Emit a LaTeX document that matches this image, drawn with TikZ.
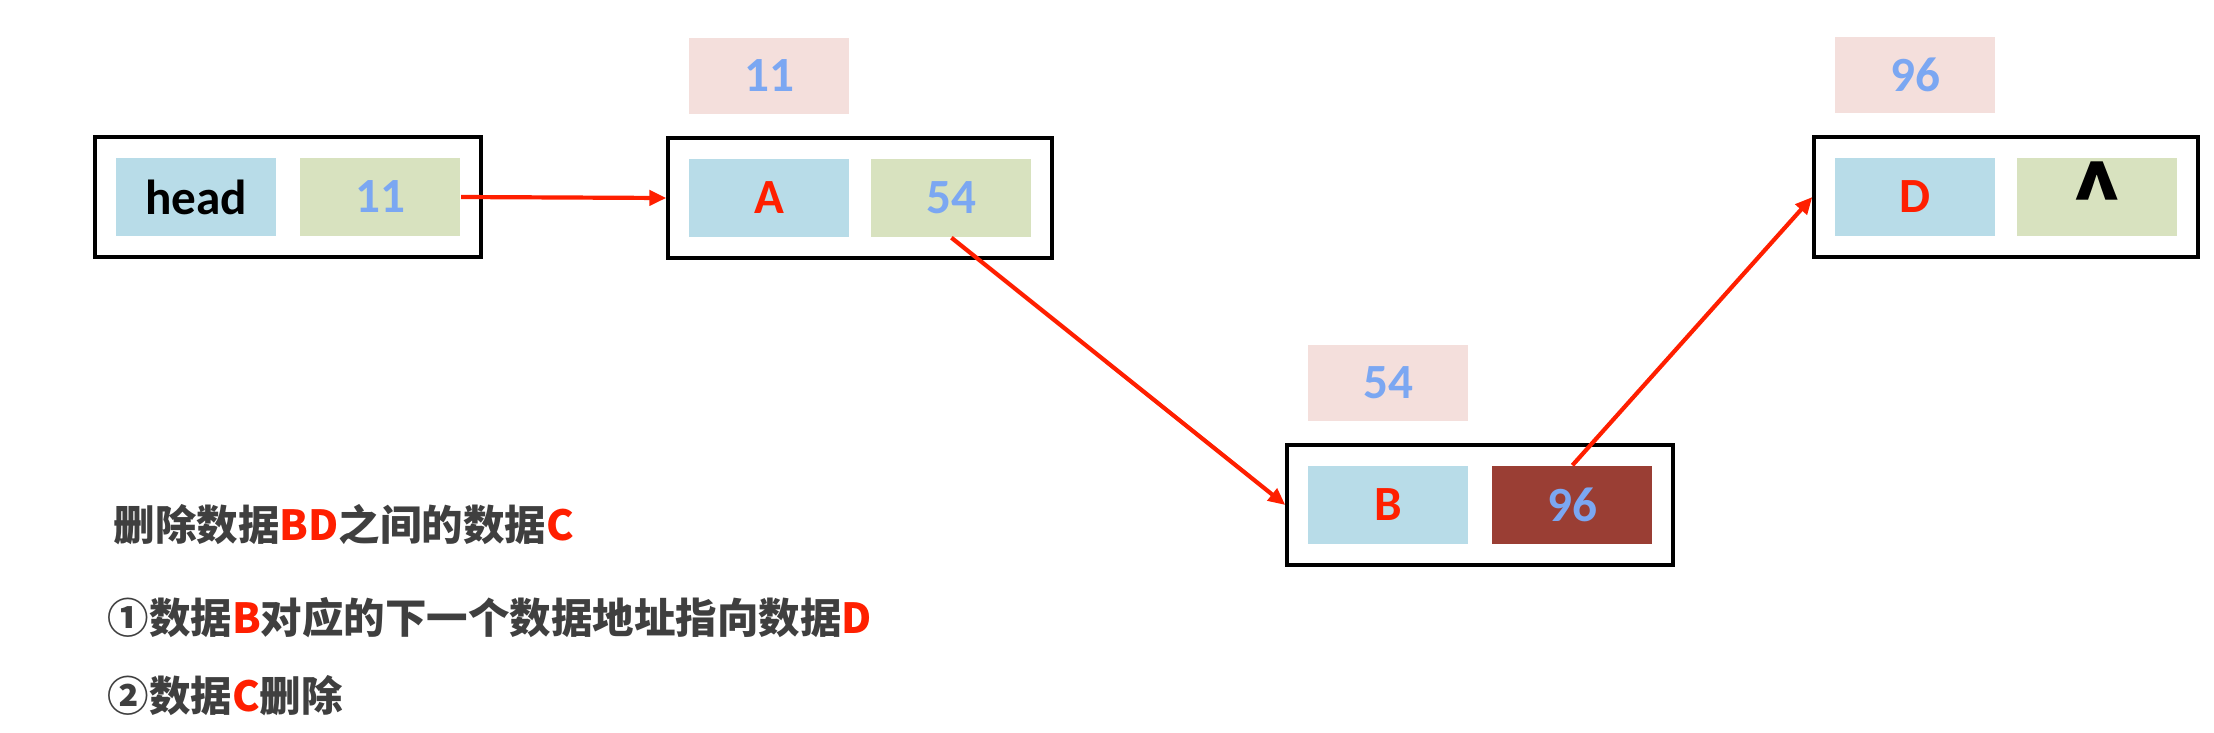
\documentclass[tikz,border=0pt]{standalone}
\usepackage{fontspec}
\setmainfont{Carlito}
\newfontfamily\cjk{Noto Sans CJK SC}
\usetikzlibrary{arrows.meta}
\usetikzlibrary{positioning}
\usetikzlibrary{fit}

\definecolor{valblue}{HTML}{B8DCE8}
\definecolor{ptrgreen}{HTML}{D8E2BF}
\definecolor{addrpink}{HTML}{F4DFDC}
\definecolor{ptrbrown}{HTML}{9A3E34}
\definecolor{numblue}{HTML}{7BA7F2}
\definecolor{keyred}{HTML}{FF1F00}
\definecolor{notegray}{HTML}{3F3F3F}

\newcommand{\keytxt}[1]{\textcolor{keyred}{#1}}

\tikzset {
  list cell/.style = {
    rectangle,
    inner sep = 0,
    minimum width = 1.6cm,
    minimum height = 0.78cm,
    font = \fontsize{14}{16}\selectfont\bfseries
  },
  % data part of a list node
  val/.style = {
    list cell,
    fill = valblue,
    text = keyred
  },
  % address part of a list node
  ptr/.style = {
    list cell,
    fill = ptrgreen,
    text = numblue
  },
  % address of the node, written above it
  addr/.style = {
    list cell,
    fill = addrpink,
    text = numblue,
    minimum height = 0.76cm
  },
  frame/.style = {
    draw = black,
    line width = 0.04cm,
    inner sep = 0.2cm
  },
  link/.style = {
    draw = keyred,
    line width = 0.042cm,
    -{Triangle[length = 0.17cm, width = 0.15cm]}
  },
  note/.style = {
    anchor = west,
    inner sep = 0,
    text = notegray,
    font = \cjk\fontsize{11.8}{14}\selectfont\bfseries
  },
  node distance = 0.21cm
}

\begin{document}
\begin{tikzpicture}
    \useasboundingbox (0,0) rectangle (22.14,7.32);

    % head
    \node[val, text = black] (head-data) at (1.96,5.35) {head};
    \node[ptr] (head-ptr) [right=0.23cm of head-data] {11};
    \node[frame, fit=(head-data)(head-ptr)] (head-frame) {};

    % A
    \node[val] (a-data) at (7.69,5.34) {A};
    \node[ptr] (a-ptr) [right=of a-data] {54};
    \node[frame, fit=(a-data)(a-ptr)] (a-frame) {};
    \node[addr] (a-addr) [above=0.44cm of a-data] {11};

    % B
    \node[val] (b-data) at (13.88,2.27) {B};
    \node[ptr, fill = ptrbrown] (b-ptr) [right=0.23cm of b-data] {96};
    \node[frame, fit=(b-data)(b-ptr)] (b-frame) {};
    \node[addr] (b-addr) [above=0.44cm of b-data] {54};

    % D
    \node[val] (d-data) at (19.15,5.35) {D};
    \node[ptr, text = black] (d-ptr) [right=of d-data]
      {\raisebox{0.25ex}{\cjk\fontsize{24}{24}\selectfont\bfseries\textasciicircum}};
    \node[frame, fit=(d-data)(d-ptr)] (d-frame) {};
    \node[addr] (d-addr) [above=0.44cm of d-data] {96};

    \draw[link] (head-ptr.east) -- (a-frame.west);
    \draw[link] (a-ptr.south) -- (b-frame.west);
    \draw[link] (b-ptr.north) -- (d-frame.west);

    % notes
    \node[note] (note-title) at (1.13,2.07) {删除数据\keytxt{BD}之间的数据\keytxt{C}};
    \node[note] (note-one) at (1.07,1.14) {①数据\keytxt{B}对应的下一个数据地址指向数据\keytxt{D}};
    \node[note] (note-two) at (1.07,0.36) {②数据\keytxt{C}删除};
  \end{tikzpicture}
\end{document}
